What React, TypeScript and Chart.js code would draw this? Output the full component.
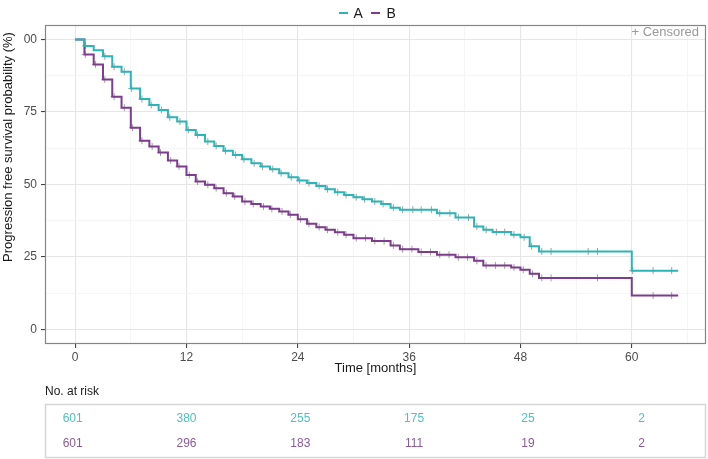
import React, { useEffect, useRef } from "react";
import { Chart, registerables } from "chart.js";

Chart.register(...registerables);

// ---- Data ----
const timesA = [0,1,2,3,4,5,6,7,8,9,10,11,12,13,14,15,16,17,18,19,20,21,22,23,24,25,26,27,28,29,30,31,32,33,34,35,39,41,43,44,45,47,48,49,50,60,65];
const survA = [100,97.8,96.3,94.2,90.6,88.9,83.1,79.5,77.4,75.7,73.2,71.7,68.8,67.1,64.8,63.3,61.6,60.2,58.7,57.3,56.2,55.3,53.9,52.5,51.4,50.5,49.5,48.4,47.3,46.4,45.6,44.9,44.1,43.3,42.0,41.3,40.1,38.6,35.5,34.4,33.6,32.7,31.8,28.7,26.9,20.3,20.3];

const timesB = [0,1,2,3,4,5,6,7,8,9,10,11,12,13,14,15,16,17,18,19,20,21,22,23,24,25,26,27,28,29,30,32,34,35,37,39,41,43,44,47,48,49,50,60,65];
const survB = [100,94.8,91.4,86.2,80.3,76.5,69.6,65.1,63.1,61.0,58.3,56.2,53.3,51.0,49.9,48.7,47.0,45.9,44.1,43.3,42.4,41.6,40.7,39.6,38.0,36.5,35.3,34.4,33.5,32.7,31.5,30.5,29.0,27.7,26.7,25.8,24.9,23.7,22.1,21.4,20.6,19.2,17.8,11.7,11.7];

const censorA = [1.1,3.2,4.2,5.3,6.1,7.2,8.2,9.3,10.2,11.3,12.2,13.2,14.3,15.2,16.2,17.3,18.2,19.3,20.2,21.3,22.2,23.3,24.2,25.2,26.3,27.2,28.3,29.2,30.3,31.2,32.3,33.2,34.3,35.3,36.4,37.3,38.4,39.3,40.4,41.3,42.4,43.3,44.3,45.4,46.3,47.3,48.4,49.2,50.3,51.3,55.3,56.3,60.1,62.3,64.3];
const censorB = [1.1,2.2,3.2,4.2,5.3,6.2,7.2,8.3,9.2,10.3,11.2,12.3,13.2,14.3,15.2,16.3,17.2,18.3,19.2,20.3,21.2,22.3,23.2,24.3,25.2,26.3,27.2,28.3,29.2,30.3,31.3,32.3,33.3,34.3,35.3,36.3,37.3,38.3,39.3,40.3,41.3,42.3,43.3,44.3,45.3,46.3,47.3,48.3,49.3,50.3,51.3,56.3,62.3,64.3];

const xTicks = [0,6,12,18,24,30,36,42,48,54,60,66];
const yTicks = [0,12.5,25,37.5,50,62.5,75,87.5,100];
const riskTimes = [0,12,24,36,48,60];
const riskA = [601,380,255,175,25,2];
const riskB = [601,296,183,111,19,2];
const groupNames = ["A","B"];

const COL_A = "#2BB5B8";
const COL_B = "#7D3C8E";
const TXT_A = "#4DBFC2";
const TXT_B = "#8A5A98";
const FONT = "'Liberation Sans', Arial, sans-serif";

function stepValue(times: number[], surv: number[], t: number) {
  let v = surv[0];
  for (let i = 0; i < times.length; i++) {
    if (times[i] <= t) v = surv[i];
  }
  return v;
}

const overlayPlugin = {
  id: "overlay",
  afterDraw(chart: any) {
    const ctx = chart.ctx;
    const a = chart.chartArea;
    ctx.save();
    // panel border
    ctx.strokeStyle = "#858585";
    ctx.lineWidth = 1.2;
    ctx.strokeRect(a.left + 0.5, a.top + 0.5, a.right - a.left - 1, a.bottom - a.top - 1);

    // legend
    const ly = 13;
    ctx.lineWidth = 2;
    ctx.strokeStyle = COL_A;
    ctx.beginPath(); ctx.moveTo(339, ly); ctx.lineTo(348, ly); ctx.stroke();
    ctx.strokeStyle = COL_B;
    ctx.beginPath(); ctx.moveTo(371, ly); ctx.lineTo(380, ly); ctx.stroke();
    ctx.fillStyle = "#1a1a1a";
    ctx.font = `14px ${FONT}`;
    ctx.textBaseline = "middle";
    ctx.textAlign = "left";
    ctx.fillText(groupNames[0], 353.5, ly + 1);
    ctx.fillText(groupNames[1], 386.5, ly + 1);

    // censored note
    ctx.fillStyle = "#9a9a9a";
    ctx.font = `13px ${FONT}`;
    ctx.textAlign = "right";
    ctx.fillText("+ Censored", a.right - 7, a.top + 7);

    // y title
    ctx.save();
    ctx.translate(8, 147);
    ctx.rotate(-Math.PI / 2);
    ctx.fillStyle = "#1a1a1a";
    ctx.font = `13px ${FONT}`;
    ctx.textAlign = "center";
    ctx.textBaseline = "middle";
    ctx.fillText("Progression free survival probability (%)", 0, 0);
    ctx.restore();

    // x title
    ctx.fillStyle = "#1a1a1a";
    ctx.font = `13px ${FONT}`;
    ctx.textAlign = "center";
    ctx.textBaseline = "middle";
    ctx.fillText("Time [months]", (a.left + a.right) / 2, 368);

    // risk table
    ctx.textAlign = "left";
    ctx.font = `12px ${FONT}`;
    ctx.fillText("No. at risk", a.left, 392);
    ctx.strokeStyle = "#d6d6d6";
    ctx.lineWidth = 1.5;
    ctx.strokeRect(a.left + 0.5, 404.5, a.right - a.left - 1, 53);
    ctx.textAlign = "center";
    const x0 = a.left + 27.7;
    const pxPerMonth = (a.right - a.left - 92) / 60;
    riskTimes.forEach((t, i) => {
      const x = x0 + t * pxPerMonth;
      ctx.fillStyle = TXT_A;
      ctx.fillText(String(riskA[i]), x, 419);
      ctx.fillStyle = TXT_B;
      ctx.fillText(String(riskB[i]), x, 443.5);
    });
    ctx.restore();
  },
};

export default function App() {
  const ref = useRef<HTMLCanvasElement>(null);
  useEffect(() => {
    document.body.style.margin = "0";
    const canvas = ref.current!;
    const mk = (times: number[], surv: number[]) => times.map((t, i) => ({ x: t, y: surv[i] }));
    const mkC = (cs: number[], times: number[], surv: number[]) => cs.map((t) => ({ x: t, y: stepValue(times, surv, t) }));
    const chart = new Chart(canvas, {
      type: "line",
      data: {
        datasets: [
          { label: "A", data: mk(timesA, survA), borderColor: COL_A, borderWidth: 2, stepped: "before", pointRadius: 0, fill: false },
          { label: "B", data: mk(timesB, survB), borderColor: COL_B, borderWidth: 2, stepped: "before", pointRadius: 0, fill: false },
          { label: "cA", data: mkC(censorA, timesA, survA), showLine: false, pointStyle: "cross", pointRadius: 3.5, borderColor: "rgba(120,120,120,0.7)", borderWidth: 1, pointBorderWidth: 1 },
          { label: "cB", data: mkC(censorB, timesB, survB), showLine: false, pointStyle: "cross", pointRadius: 3.5, borderColor: "rgba(120,120,120,0.7)", borderWidth: 1, pointBorderWidth: 1 },
        ] as any,
      },
      options: {
        animation: false,
        responsive: false,
        maintainAspectRatio: false,
        layout: { padding: { left: 0, top: 25, right: 2, bottom: 85 } },
        plugins: { legend: { display: false }, tooltip: { enabled: false } },
        scales: {
          x: {
            type: "linear",
            min: -3.25,
            max: 68,
            afterBuildTicks: (s: any) => { s.ticks = xTicks.map((v) => ({ value: v })); },
            afterFit: (s: any) => { s.height = 30; s.paddingLeft = 0; s.paddingRight = 0; },
            ticks: {
              autoSkip: false,
              maxRotation: 0,
              padding: 2,
              color: "#4d4d4d",
              font: { size: 12, family: FONT },
              callback: (v: any) => (Number(v) % 12 === 0 ? String(v) : ""),
            },
            grid: {
              color: (c: any) => (c.tick && c.tick.value % 12 === 0 ? "#e6e6e6" : "#f3f3f3"),
              lineWidth: (c: any) => (c.tick && c.tick.value % 12 === 0 ? 1.1 : 0.8),
              tickLength: 4,
              tickColor: (c: any) => (c.tick && c.tick.value % 12 === 0 ? "#444" : "rgba(0,0,0,0)"),
            },
            border: { display: false },
          },
          y: {
            type: "linear",
            min: -5,
            max: 105,
            afterBuildTicks: (s: any) => { s.ticks = yTicks.map((v) => ({ value: v })); },
            afterFit: (s: any) => { s.width = 45; s.paddingTop = 0; s.paddingBottom = 0; },
            ticks: {
              autoSkip: false,
              padding: 4,
              color: "#4d4d4d",
              font: { size: 12, family: FONT },
              callback: (v: any) => {
                const n = Number(v);
                if (n % 25 !== 0) return "";
                return n === 100 ? "00" : String(n);
              },
            },
            grid: {
              color: (c: any) => (c.tick && c.tick.value % 25 === 0 ? "#e6e6e6" : "#f3f3f3"),
              lineWidth: (c: any) => (c.tick && c.tick.value % 25 === 0 ? 1.1 : 0.8),
              tickLength: 4,
              tickColor: (c: any) => (c.tick && c.tick.value % 25 === 0 ? "#444" : "rgba(0,0,0,0)"),
            },
            border: { display: false },
          },
        },
      },
      plugins: [overlayPlugin],
    });
    return () => chart.destroy();
  }, []);
  return (
    <div style={{ width: 708, height: 459, overflow: "hidden", background: "#fff" }}>
      <canvas ref={ref} width={711} height={459} style={{ display: "block", width: 711, height: 459 }} />
    </div>
  );
}
